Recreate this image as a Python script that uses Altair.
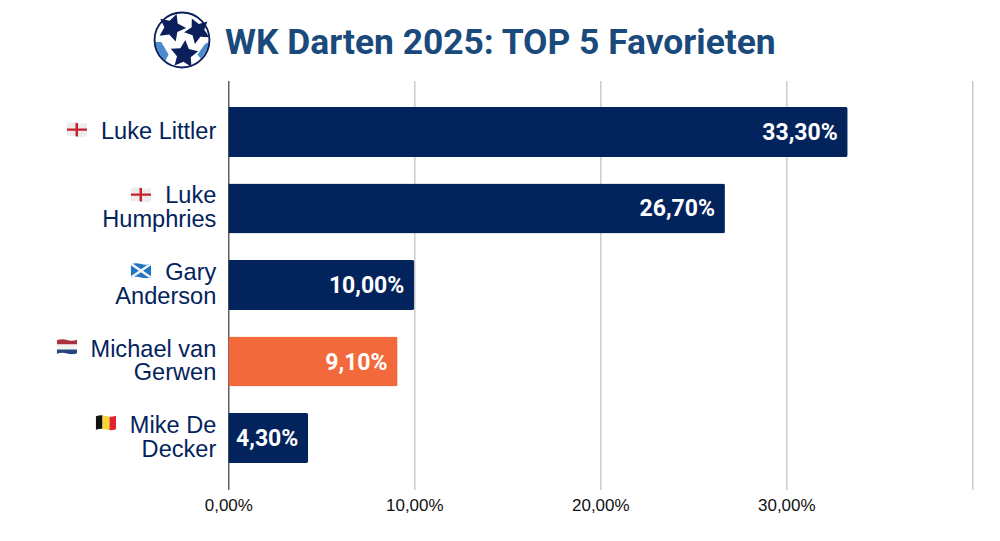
import math
import urllib.parse
import altair as alt
import pandas as pd

players = ["Luke Littler", "Luke Humphries", "Gary Anderson", "Michael van Gerwen", "Mike De Decker"]
labels = ["Luke Littler", "Luke\nHumphries", "Gary\nAnderson", "Michael van\nGerwen", "Mike De\nDecker"]
odds = [33.3, 26.7, 10.0, 9.1, 4.3]
bar_colors = ["#03235c", "#03235c", "#03235c", "#f26a3b", "#03235c"]
value_labels = ["33,30%", "26,70%", "10,00%", "9,10%", "4,30%"]
title = "WK Darten 2025: TOP 5 Favorieten"


def uri(svg):
    return "data:image/svg+xml," + urllib.parse.quote(svg)


def flag(inner):
    return uri(
        '<svg xmlns="http://www.w3.org/2000/svg" width="42" height="32" viewBox="0 0 42 32">'
        '<defs><clipPath id="c"><path d="M0 3 Q10 -1 21 2 T42 1 V28 Q32 32 21 29 T0 30 Z"/></clipPath></defs>'
        f'<g clip-path="url(#c)">{inner}</g></svg>'
    )


england = flag('<rect width="42" height="32" fill="#ececec"/><rect x="18" width="5" height="32" fill="#c8202c"/>'
               '<rect y="13" width="42" height="4.5" fill="#c8202c"/>')
scotland = flag('<rect width="42" height="32" fill="#1f74c4"/>'
                '<path d="M0 1 L42 30 M42 1 L0 30" stroke="#f4f4f4" stroke-width="5"/>')
netherlands = flag('<rect width="42" height="11" fill="#a8333f"/><rect y="11" width="42" height="10" fill="#f2f2f2"/>'
                   '<rect y="21" width="42" height="11" fill="#27467f"/>')
belgium = flag('<rect width="14" height="32" fill="#111"/><rect x="14" width="14" height="32" fill="#f7d52f"/>'
               '<rect x="28" width="14" height="32" fill="#e2232e"/>')


def star(cx, cy, r, rot):
    pts = []
    for i in range(10):
        rad = r if i % 2 == 0 else r * 0.5
        a = math.radians(rot + i * 36 - 90)
        pts.append(f"{cx + rad * math.cos(a):.1f},{cy + rad * math.sin(a):.1f}")
    return f'<polygon points="{" ".join(pts)}" fill="#0a1f5c"/>'


ball = uri(
    '<svg xmlns="http://www.w3.org/2000/svg" width="112" height="112" viewBox="0 0 56 56">'
    '<circle cx="28" cy="28" r="27" fill="#ffffff"/>'
    '<path d="M2 30 Q4 42 12 48 L15 42 L8 30 Z" fill="#1d6fc0" opacity="0.8"/>'
    '<path d="M54 30 Q52 40 46 46 L43 42 L50 32 Z" fill="#1d6fc0" opacity="0.8"/>'
    + star(18, 16, 14, 20) + star(43, 19, 13, -25) + star(30, 42, 14, 5)
    + '<circle cx="28" cy="28" r="26.5" fill="none" stroke="#0a1f5c" stroke-width="1.8"/></svg>'
)

flag_spec = [
    (england, 77, 130),
    (england, 141, 195),
    (scotland, 141, 271),
    (netherlands, 67, 347),
    (belgium, 106, 423),
]
ORIGIN_X, ORIGIN_Y = 228.3, 80.5

df = pd.DataFrame({"player": players, "label": labels, "odds": odds, "color": bar_colors, "text": value_labels})
y_enc = alt.Y("player:N", sort=players, scale=alt.Scale(padding=0.346),
              axis=alt.Axis(labels=False, ticks=False, title=None, grid=False,
                            domainColor="#333333", domainWidth=1))

bars = alt.Chart(df).mark_bar(cornerRadiusEnd=2, size=50).encode(
    y=y_enc,
    x=alt.X("odds:Q", scale=alt.Scale(domain=[0, 40], nice=False),
            axis=alt.Axis(values=[0, 10, 20, 30, 40], title=None, ticks=False, domain=False,
                          grid=True, gridColor="#cccccc", gridWidth=1.5, labelFlush=False,
                          labelExpr="datum.value < 40 ? replace(format(datum.value, '.2f'), '.', ',') + '%' : ''",
                          labelFont="Liberation Sans", labelFontSize=17, labelColor="#111111", labelPadding=8)),
    color=alt.Color("color:N", scale=None, legend=None),
)
values = alt.Chart(df).mark_text(align="right", baseline="middle", dx=-10, dy=1, font="Roboto", fontWeight="bold",
                                 fontSize=23, color="white").encode(
    y=alt.Y("player:N", sort=players), x="odds:Q", text="text:N")
names_one = alt.Chart(df[~df.label.str.contains("\n")]).mark_text(
    align="right", baseline="middle", font="Liberation Sans", fontSize=23.6, color="#03235c").encode(
    y=alt.Y("player:N", sort=players), x=alt.value(-12), text="label:N")
names_two = alt.Chart(df[df.label.str.contains("\n")]).mark_text(
    align="right", baseline="middle", lineBreak="\n", lineHeight=24, dy=-12,
    font="Liberation Sans", fontSize=23.6, color="#03235c").encode(
    y=alt.Y("player:N", sort=players), x=alt.value(-12), text="label:N")

one = pd.DataFrame({"a": [0], "title": [title]})
images = [
    alt.Chart(one).mark_image(url=u, width=21, height=16).encode(
        x=alt.value(fx - ORIGIN_X), y=alt.value(fy - ORIGIN_Y))
    for u, fx, fy in flag_spec
]
logo = alt.Chart(one).mark_image(url=ball, width=58, height=58).encode(
    x=alt.value(182 - ORIGIN_X), y=alt.value(40 - ORIGIN_Y))
heading = alt.Chart(one).mark_text(align="left", baseline="middle", font="Roboto", fontWeight="bold",
                                   fontSize=35.4, color="#1a4a7c").encode(
    x=alt.value(225 - ORIGIN_X), y=alt.value(43 - ORIGIN_Y), text="title:N")

chart = alt.layer(bars, values, names_one, names_two, *images, logo, heading).properties(
    width=744, height=409,
    autosize="none",
    padding={"left": 220.3, "top": 72.5, "right": 16, "bottom": 40},
    background="white",
).configure_view(stroke=None)

chart.save("out.html", embed_options={"renderer": "svg", "actions": False})
